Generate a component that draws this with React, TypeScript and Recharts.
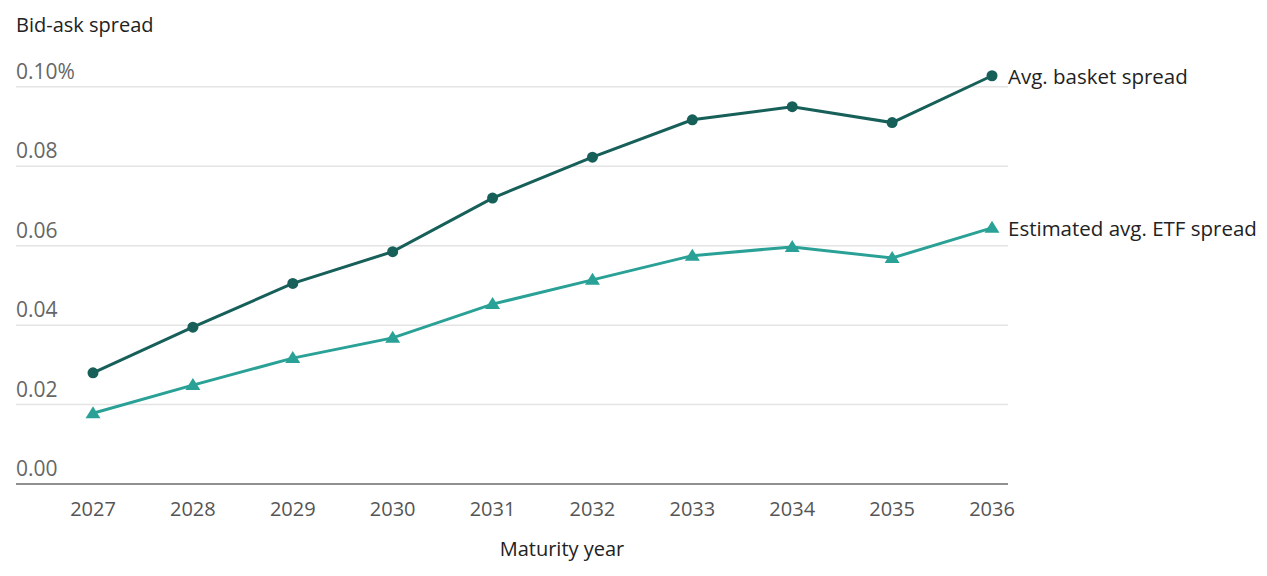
import { LineChart, Line, XAxis, YAxis, ReferenceLine } from "recharts";

// values (percent)
const years = ["2027", "2028", "2029", "2030", "2031", "2032", "2033", "2034", "2035", "2036"];
const basketSpread = [0.028, 0.0395, 0.0505, 0.0585, 0.072, 0.0823, 0.0917, 0.095, 0.091, 0.1028];
const etfSpread = [0.0178, 0.0249, 0.0317, 0.0368, 0.0453, 0.0514, 0.0575, 0.0597, 0.0569, 0.0645];
const yTicks = [0, 0.02, 0.04, 0.06, 0.08, 0.1];
const yTickLabels = ["0.00", "0.02", "0.04", "0.06", "0.08", "0.10%"];

const DARK = "#175f59";
const LIGHT = "#2aa196";
const FONT = "'Open Sans', Lato, sans-serif";
const FS = 20;

const data = years.map((year, i) => ({
    year,
    basket: basketSpread[i],
    etf: etfSpread[i],
}));

function yLabel(text: string) {
    return (props: any) => {
        const { viewBox } = props;
        return (
            <text x={viewBox.x} y={viewBox.y - 8} fill="#666" fontSize={21} fontFamily={FONT}>
                {text}
            </text>
        );
    };
}

function Triangle(props: any) {
    const { cx, cy } = props;
    if (cx == null || cy == null) return null;
    const pts = `${cx},${cy - 7} ${cx - 7.5},${cy + 5} ${cx + 7.5},${cy + 5}`;
    return <polygon points={pts} fill={LIGHT} />;
}

function endLabel(text: string) {
    return (props: any) => {
        const { x, y, index } = props;
        if (index !== years.length - 1) return null;
        return (
            <text
                x={x + 16}
                y={y}
                dominantBaseline="central"
                fill="#222"
                fontSize={20.5}
                fontFamily={FONT}
            >
                {text}
            </text>
        );
    };
}

export default function App() {
    return (
        <div style={{ position: "absolute", left: 0, top: 0, width: 1267, height: 576, background: "#fff" }}>
            <div
                style={{
                    position: "absolute",
                    left: 16,
                    top: 11,
                    fontFamily: FONT,
                    fontSize: FS,
                    color: "#222",
                }}
            >
                Bid-ask spread
            </div>
            <LineChart
                width={1267}
                height={576}
                data={data}
                margin={{ top: 67, right: 259, left: 16, bottom: 0 }}
            >
                <YAxis hide type="number" domain={[0, 0.105]} />
                {yTicks.map((t, i) => (
                    <ReferenceLine
                        key={t}
                        y={t}
                        stroke={t === 0 ? "none" : "#e4e4e4"}
                        strokeWidth={1.5}
                        label={yLabel(yTickLabels[i])}
                    />
                ))}
                <XAxis
                    dataKey="year"
                    padding={{ left: 77, right: 16 }}
                    axisLine={{ stroke: "#6b6b6b", strokeWidth: 1.5 }}
                    tickLine={false}
                    tick={{ fill: "#555", fontSize: FS, fontFamily: FONT }}
                    tickMargin={12}
                    height={92}
                    label={{
                        value: "Maturity year",
                        position: "insideBottom",
                        offset: 20,
                        dx: 50,
                        fill: "#222",
                        fontSize: FS,
                        fontFamily: FONT,
                    }}
                />
                <Line
                    dataKey="basket"
                    stroke={DARK}
                    strokeWidth={3}
                    dot={{ r: 5.5, fill: DARK, stroke: "none" }}
                    activeDot={false}
                    label={endLabel("Avg. basket spread")}
                    isAnimationActive={false}
                />
                <Line
                    dataKey="etf"
                    stroke={LIGHT}
                    strokeWidth={3}
                    dot={<Triangle />}
                    activeDot={false}
                    label={endLabel("Estimated avg. ETF spread")}
                    isAnimationActive={false}
                />
            </LineChart>
        </div>
    );
}
